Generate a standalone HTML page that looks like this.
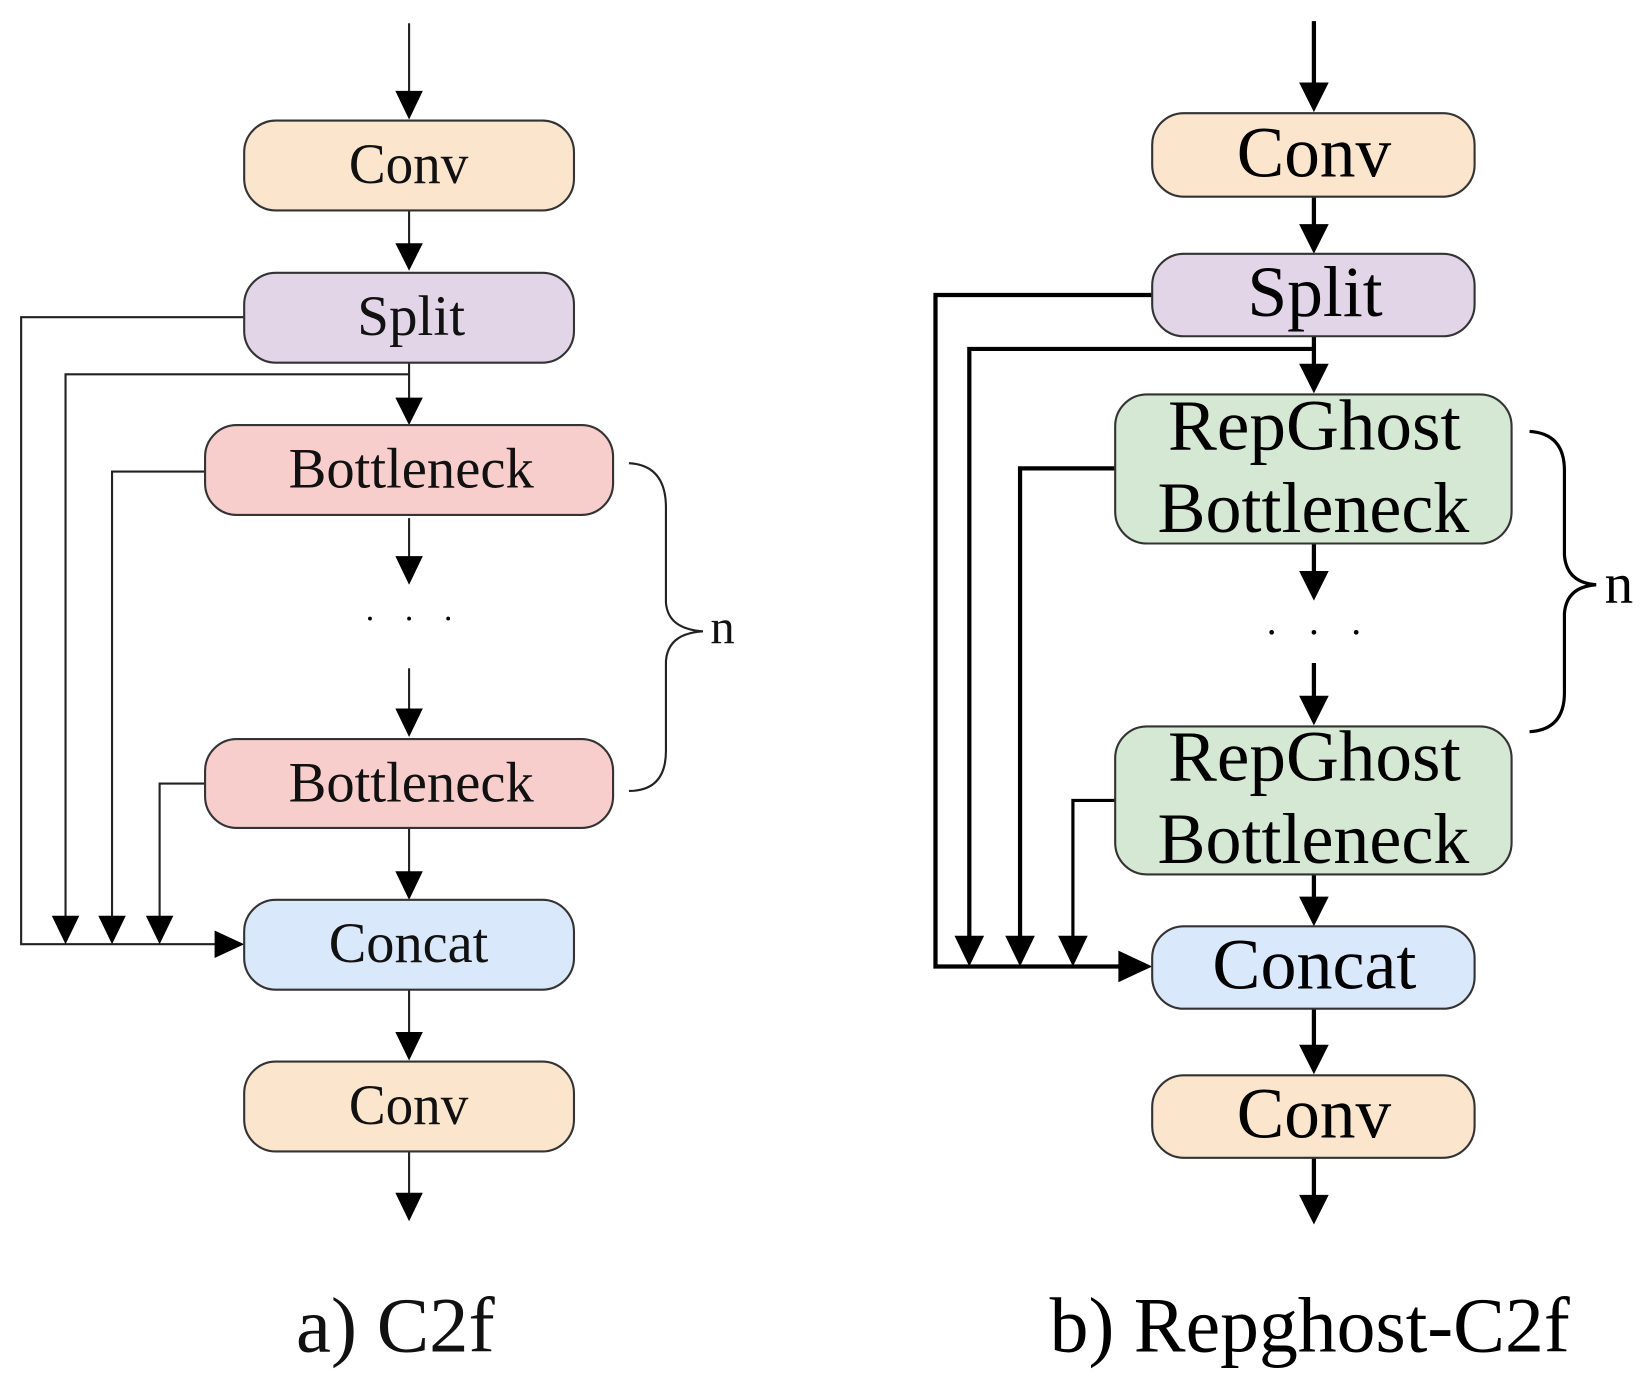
<!DOCTYPE html>
<html><head><meta charset="utf-8"><style>html,body{margin:0;padding:0;background:#fff}svg{display:block}</style></head>
<body>
<svg width="1649" height="1382" viewBox="0 0 1560 1307" preserveAspectRatio="none" xmlns="http://www.w3.org/2000/svg" font-family="Liberation Serif, serif">
<g fill="none" stroke="#222" stroke-width="2">
<line x1="387" y1="22" x2="387" y2="88"/>
<line x1="387" y1="199" x2="387" y2="232"/>
<line x1="387" y1="343" x2="387" y2="378"/>
<line x1="387" y1="490" x2="387" y2="528"/>
<line x1="387" y1="632" x2="387" y2="672"/>
<line x1="387" y1="783" x2="387" y2="826"/>
<line x1="387" y1="936" x2="387" y2="978"/>
<line x1="387" y1="1089" x2="387" y2="1130"/>
<polyline points="231,300 20,300 20,893 205,893"/>
<polyline points="387,354 62,354 62,868"/>
<polyline points="194,446 106,446 106,868"/>
<polyline points="194,741 151,741 151,868"/>
<path d="M595,438 Q630,440 630,480 L630,570 Q632,595 665,597 Q632,599 630,625 L630,710 Q630,748 595,748"/>
</g>
<g fill="#000">
<polygon points="374,86 400,86 387,113"/>
<polygon points="374,230 400,230 387,256"/>
<polygon points="374,376 400,376 387,402"/>
<polygon points="374,526 400,526 387,553"/>
<polygon points="374,670 400,670 387,697"/>
<polygon points="374,824 400,824 387,851"/>
<polygon points="374,976 400,976 387,1003"/>
<polygon points="374,1128 400,1128 387,1155"/>
<polygon points="49,866 75,866 62,893"/>
<polygon points="93,866 119,866 106,893"/>
<polygon points="138,866 164,866 151,893"/>
<polygon points="203,880 203,906 231,893"/>
<circle cx="350" cy="585" r="1.8"/><circle cx="387" cy="585" r="1.8"/><circle cx="424" cy="585" r="1.8"/>
</g>
<g stroke="#333" stroke-width="2">
<rect x="231" y="114" width="312" height="85" rx="30" fill="#fbe5cd"/>
<rect x="231" y="258" width="312" height="85" rx="30" fill="#e1d5e7"/>
<rect x="194" y="402" width="386" height="85" rx="30" fill="#f8cecc"/>
<rect x="194" y="699" width="386" height="84" rx="30" fill="#f8cecc"/>
<rect x="231" y="851" width="312" height="85" rx="30" fill="#dae8fc"/>
<rect x="231" y="1004" width="312" height="85" rx="30" fill="#fbe5cd"/>
</g>
<g font-size="54" fill="#111" lengthAdjust="spacingAndGlyphs">
<text x="330" y="173" textLength="113" lengthAdjust="spacingAndGlyphs">Conv</text>
<text x="338" y="317" textLength="102" lengthAdjust="spacingAndGlyphs">Split</text>
<text x="273" y="461" textLength="232" lengthAdjust="spacingAndGlyphs">Bottleneck</text>
<text x="273" y="758" textLength="232" lengthAdjust="spacingAndGlyphs">Bottleneck</text>
<text x="311" y="910" textLength="151" lengthAdjust="spacingAndGlyphs">Concat</text>
<text x="330" y="1063" textLength="113" lengthAdjust="spacingAndGlyphs">Conv</text>
<text x="672" y="608" font-size="46">n</text>
<text x="280" y="1278" font-size="74" textLength="188" lengthAdjust="spacingAndGlyphs">a) C2f</text>
</g>
<g fill="none" stroke="#000" stroke-width="4">
<line x1="1243" y1="20" x2="1243" y2="80"/>
<line x1="1243" y1="186" x2="1243" y2="215"/>
<line x1="1243" y1="318" x2="1243" y2="346"/>
<line x1="1243" y1="514" x2="1243" y2="542"/>
<line x1="1243" y1="627" x2="1243" y2="660"/>
<line x1="1243" y1="827" x2="1243" y2="850"/>
<line x1="1243" y1="954" x2="1243" y2="990"/>
<line x1="1243" y1="1095" x2="1243" y2="1132"/>
<polyline points="1090,279 885,279 885,914 1062,914"/>
<polyline points="1243,330 917,330 917,888"/>
<polyline points="1055,443 965,443 965,888"/>
</g>
<g fill="none" stroke="#000" stroke-width="3">
<polyline points="1055,757 1015,757 1015,888"/>
<path d="M1447,408 Q1480,410 1480,445 L1480,525 Q1482,551 1510,553 Q1482,555 1480,580 L1480,655 Q1480,690 1447,692"/>
</g>
<g fill="#000">
<polygon points="1229,78 1257,78 1243,106"/>
<polygon points="1229,212 1257,212 1243,240"/>
<polygon points="1229,344 1257,344 1243,372"/>
<polygon points="1229,540 1257,540 1243,568"/>
<polygon points="1229,658 1257,658 1243,686"/>
<polygon points="1229,848 1257,848 1243,876"/>
<polygon points="1229,988 1257,988 1243,1016"/>
<polygon points="1229,1130 1257,1130 1243,1158"/>
<polygon points="903,885 931,885 917,914"/>
<polygon points="951,885 979,885 965,914"/>
<polygon points="1001,885 1029,885 1015,914"/>
<polygon points="1058,899 1058,929 1090,914"/>
<circle cx="1203" cy="598" r="2.2"/><circle cx="1243" cy="598" r="2.2"/><circle cx="1283" cy="598" r="2.2"/>
</g>
<g stroke="#333" stroke-width="2">
<rect x="1090" y="107" width="305" height="79" rx="30" fill="#fbe5cd"/>
<rect x="1090" y="240" width="305" height="78" rx="30" fill="#e1d5e7"/>
<rect x="1055" y="373" width="375" height="141" rx="30" fill="#d5e8d4"/>
<rect x="1055" y="687" width="375" height="140" rx="30" fill="#d5e8d4"/>
<rect x="1090" y="876" width="305" height="78" rx="30" fill="#dae8fc"/>
<rect x="1090" y="1017" width="305" height="78" rx="30" fill="#fbe5cd"/>
</g>
<g font-size="68" fill="#000">
<text x="1170" y="167" textLength="146" lengthAdjust="spacingAndGlyphs">Conv</text>
<text x="1180" y="299" textLength="128" lengthAdjust="spacingAndGlyphs">Split</text>
<text x="1105" y="425" textLength="277" lengthAdjust="spacingAndGlyphs">RepGhost</text>
<text x="1095" y="503" textLength="295" lengthAdjust="spacingAndGlyphs">Bottleneck</text>
<text x="1105" y="738" textLength="277" lengthAdjust="spacingAndGlyphs">RepGhost</text>
<text x="1095" y="816" textLength="295" lengthAdjust="spacingAndGlyphs">Bottleneck</text>
<text x="1147" y="935" textLength="193" lengthAdjust="spacingAndGlyphs">Concat</text>
<text x="1170" y="1076" textLength="146" lengthAdjust="spacingAndGlyphs">Conv</text>
<text x="1518" y="570" font-size="54">n</text>
<text x="993" y="1278" font-size="74" textLength="492" lengthAdjust="spacingAndGlyphs">b) Repghost-C2f</text>
</g>
</svg>
</body></html>
